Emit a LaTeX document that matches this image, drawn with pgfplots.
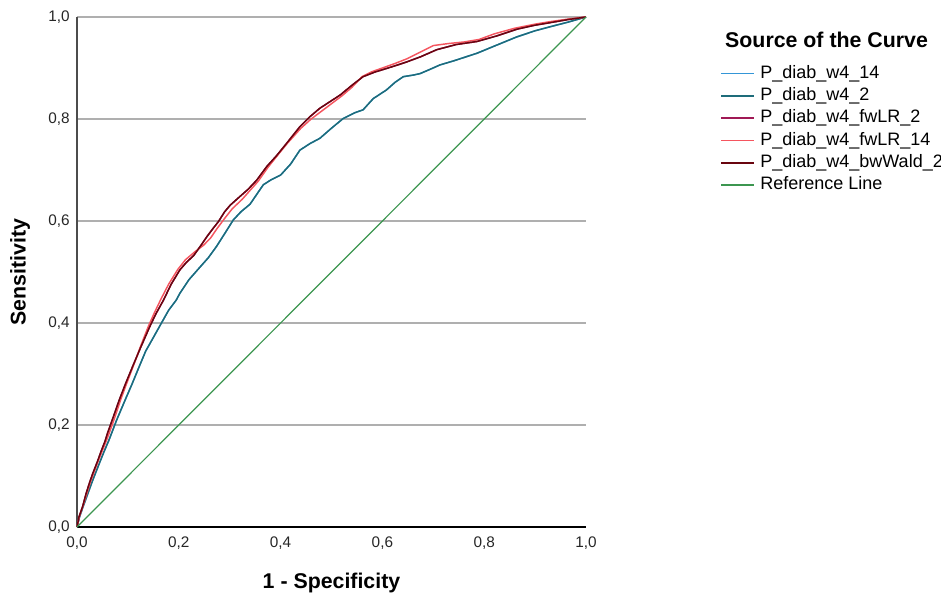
\documentclass[border=0pt]{standalone}
\usepackage{fontspec}
\setmainfont{Liberation Sans}
\usepackage{pgfplots}
\pgfplotsset{compat=1.18}

\definecolor{cblue}{RGB}{52,150,215}
\definecolor{cteal}{RGB}{30,108,122}
\definecolor{cpurple}{RGB}{160,25,85}
\definecolor{cred}{RGB}{245,85,95}
\definecolor{cdark}{RGB}{105,5,15}
\definecolor{cgreen}{RGB}{60,150,80}
\definecolor{cgrid}{RGB}{175,175,175}

\pgfplotstableread{
x y
0 0
0.005 0.020
0.012 0.040
0.020 0.062
0.031 0.092
0.042 0.120
0.052 0.145
0.063 0.171
0.078 0.210
0.095 0.250
0.108 0.280
0.122 0.314
0.135 0.345
0.148 0.368
0.162 0.393
0.180 0.425
0.195 0.445
0.202 0.458
0.220 0.485
0.242 0.510
0.258 0.528
0.274 0.550
0.290 0.575
0.307 0.602
0.322 0.618
0.340 0.633
0.355 0.655
0.366 0.671
0.380 0.680
0.400 0.690
0.420 0.712
0.438 0.739
0.458 0.752
0.477 0.762
0.500 0.782
0.523 0.801
0.545 0.812
0.562 0.818
0.582 0.840
0.608 0.857
0.625 0.872
0.641 0.883
0.660 0.886
0.674 0.889
0.695 0.898
0.713 0.906
0.740 0.914
0.786 0.929
0.820 0.943
0.864 0.961
0.900 0.973
0.930 0.981
0.965 0.990
1 1
}\tealdata

\pgfplotstableread{
x y
0 0
0.004 0.020
0.011 0.040
0.018 0.066
0.025 0.088
0.031 0.105
0.040 0.128
0.048 0.150
0.055 0.168
0.060 0.184
0.070 0.212
0.083 0.249
0.095 0.280
0.109 0.314
0.125 0.352
0.143 0.393
0.155 0.418
0.170 0.445
0.185 0.476
0.202 0.504
0.215 0.519
0.229 0.532
0.242 0.550
0.255 0.569
0.267 0.585
0.278 0.599
0.290 0.618
0.301 0.631
0.320 0.648
0.336 0.662
0.353 0.680
0.373 0.707
0.392 0.728
0.410 0.750
0.438 0.785
0.457 0.804
0.477 0.821
0.497 0.834
0.517 0.847
0.540 0.866
0.562 0.883
0.585 0.892
0.608 0.899
0.630 0.906
0.648 0.912
0.675 0.922
0.707 0.936
0.745 0.946
0.786 0.952
0.825 0.963
0.864 0.976
0.900 0.984
0.930 0.989
0.965 0.995
1 1
}\darkdata

\pgfplotstableread{
x y
0 0
0.005 0.022
0.012 0.042
0.020 0.068
0.027 0.090
0.033 0.106
0.042 0.130
0.050 0.150
0.058 0.170
0.064 0.186
0.074 0.214
0.086 0.250
0.097 0.280
0.110 0.314
0.124 0.352
0.140 0.393
0.152 0.420
0.165 0.447
0.180 0.476
0.198 0.505
0.213 0.524
0.232 0.540
0.248 0.552
0.262 0.566
0.275 0.585
0.290 0.605
0.305 0.624
0.325 0.643
0.340 0.660
0.356 0.678
0.375 0.705
0.395 0.730
0.413 0.752
0.440 0.782
0.460 0.800
0.480 0.815
0.500 0.830
0.520 0.845
0.540 0.862
0.560 0.883
0.580 0.893
0.600 0.900
0.625 0.909
0.648 0.918
0.672 0.930
0.700 0.944
0.730 0.948
0.760 0.951
0.790 0.956
0.820 0.967
0.860 0.978
0.900 0.986
0.930 0.991
0.965 0.996
1 1
}\reddata

\begin{document}
\begin{tikzpicture}
\begin{axis}[
  at={(0pt,0pt)}, anchor=south west,
  scale only axis, width=381.75pt, height=382.5pt,
  xmin=0, xmax=1, ymin=0, ymax=1,
  clip=false,
  axis x line=bottom, axis y line=left,
  axis line style={-},
  x axis line style={black, line width=0.8pt},
  y axis line style={black!70, line width=1pt},
  xtick={0,0.2,0.4,0.6,0.8,1},
  ytick={0,0.2,0.4,0.6,0.8,1},
  xticklabels={{0,0},{0,2},{0,4},{0,6},{0,8},{1,0}},
  yticklabels={{0,0},{0,2},{0,4},{0,6},{0,8},{1,0}},
  major tick length=0pt,
  tick label style={font=\fontsize{11.5}{13}\selectfont, text=black!85},
  xticklabel style={anchor=north, inner sep=0pt, yshift=-7.5pt},
  yticklabel style={anchor=east, inner sep=0pt, xshift=-5.25pt},
  ymajorgrids, grid style={cgrid, line width=1.1pt},
  xlabel={1 - Specificity}, ylabel={Sensitivity},
  label style={font=\fontsize{16}{19}\selectfont\bfseries},
  xlabel style={at={(axis description cs:0.5,-0.11)}, anchor=center},
  ylabel style={at={(axis description cs:-0.112,0.5)}, anchor=center, rotate=0},
  legend style={draw=none, fill=none, at={(rel axis cs:1.2633,0.9065)}, anchor=north west,
    inner sep=0pt, font=\fontsize{13.5}{16}\selectfont, row sep=3.7pt, column sep=4pt,
    nodes={inner sep=0pt, text height=10pt, text depth=3pt}},
  legend cell align=left,
  legend image code/.code={\draw[#1, line width=1.3pt] (0pt,0pt) -- (24.75pt,0pt);},
]
\addplot[cblue, line width=1.1pt] table[x=x,y=y] {\tealdata};
\addlegendentry{P\_diab\_w4\_14}
\addplot[cteal, line width=1.1pt] table[x=x,y=y] {\tealdata};
\addlegendentry{P\_diab\_w4\_2}
\addplot[cpurple, line width=1.1pt] table[x=x,y=y] {\darkdata};
\addlegendentry{P\_diab\_w4\_fwLR\_2}
\addplot[cred, line width=1.1pt] table[x=x,y=y] {\reddata};
\addlegendentry{P\_diab\_w4\_fwLR\_14}
\addplot[cdark, line width=1.1pt] table[x=x,y=y] {\darkdata};
\addlegendentry{P\_diab\_w4\_bwWald\_2}
\addplot[cgreen, line width=0.9pt] coordinates {(0,0) (1,1)};
\addlegendentry{Reference Line}
\node[anchor=base west, font=\fontsize{16}{19}\selectfont\bfseries, inner sep=0pt]
  at (rel axis cs:1.273,0.9406) {Source of the Curve};
\end{axis}
\pgfresetboundingbox
\path (-57.75pt,-50.25pt) rectangle (648pt,395.25pt);
\end{tikzpicture}
\end{document}
